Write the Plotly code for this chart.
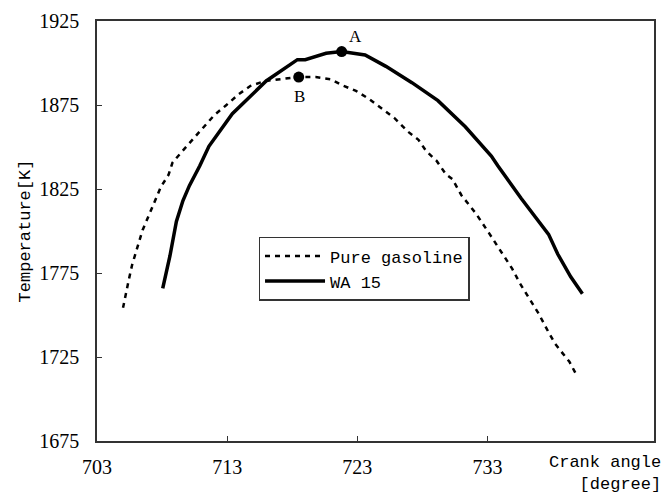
import plotly.graph_objects as go

# Pure gasoline (dashed)
gas_x = [705.0, 705.2, 705.45, 705.7, 706.0, 706.2, 706.5, 707.0, 707.5, 707.9, 708.5, 708.8, 709.4,
         710.1, 711.1, 712.0, 712.9, 713.9, 714.8, 715.9, 716.9, 718.5, 719.8, 721.0, 721.8, 722.9,
         723.9, 724.9, 725.9, 726.9, 727.7, 728.3, 729.1, 729.8, 730.3, 731.0, 732.1, 733.1, 734.1,
         734.9, 735.5, 736.3, 736.9, 737.7, 738.2, 738.8, 739.3, 739.9]
gas_T = [1754.3, 1762.6, 1771.2, 1779.9, 1787.3, 1793.7, 1800.5, 1809.6, 1818.8, 1826.1, 1833.5, 1840.7, 1846.1,
         1852.3, 1861.0, 1868.9, 1874.7, 1881.5, 1886.4, 1889.3, 1890.2, 1891.6, 1891.6, 1890.2, 1886.9, 1883.4,
         1878.6, 1872.7, 1866.9, 1859.1, 1854.3, 1847.5, 1841.7, 1833.9, 1831.0, 1821.3, 1810.6, 1799.0, 1787.3,
         1777.6, 1768.8, 1759.1, 1751.3, 1739.7, 1732.9, 1727.0, 1722.2, 1713.5]

# WA 15 (solid)
wa_x = [708.05, 708.6, 709.1, 709.6, 710.1, 710.9, 711.6, 713.4, 716.0, 718.0, 718.4, 719.0, 720.1, 720.6,
        721.8, 723.6, 725.2, 727.2, 729.2, 731.3, 733.3, 733.8, 735.6, 737.7, 738.4, 739.4, 740.3]
wa_T = [1765.9, 1785.0, 1805.7, 1818.0, 1827.0, 1838.8, 1850.4, 1869.8, 1889.3, 1900.0, 1902.0, 1902.0, 1904.8, 1905.8,
        1906.8, 1904.8, 1898.0, 1888.3, 1877.6, 1862.0, 1844.6, 1838.8, 1819.3, 1798.0, 1786.3, 1772.7, 1762.6]

# Marked points
pt_labels = ["A", "B"]
pt_x = [721.8, 718.5]
pt_T = [1906.8, 1891.6]

x_ticks = [703, 713, 723, 733]
y_ticks = [1675, 1725, 1775, 1825, 1875, 1925]

FONT = "Liberation Mono"
TICKFONT = "Liberation Serif"

fig = go.Figure()
fig.add_trace(go.Scatter(x=gas_x, y=gas_T, mode="lines", name="Pure gasoline",
                         line=dict(color="black", width=2.5, dash="5px,5px")))
fig.add_trace(go.Scatter(x=wa_x, y=wa_T, mode="lines", name="WA 15",
                         line=dict(color="black", width=3.5)))
fig.add_trace(go.Scatter(x=pt_x, y=pt_T, mode="markers", showlegend=False,
                         marker=dict(color="black", size=11)))

fig.add_annotation(x=pt_x[0], y=pt_T[0], text=pt_labels[0], showarrow=False,
                   xshift=14, yshift=15, font=dict(family="Liberation Serif", size=17, color="black"))
fig.add_annotation(x=pt_x[1], y=pt_T[1], text=pt_labels[1], showarrow=False,
                   xshift=1, yshift=-19, font=dict(family="Liberation Serif", size=17, color="black"))

fig.add_annotation(xref="paper", yref="paper", x=1, y=0, xanchor="right", yanchor="top",
                   xshift=9, yshift=-10,
                   text="Crank angle<br>[degree]", showarrow=False, align="right",
                   font=dict(family=FONT, size=17, color="black"))

axis_common = dict(showgrid=False, zeroline=False, showline=True, linecolor="#333",
                   linewidth=1.5, mirror=True, ticks="inside", ticklen=5, tickcolor="#333",
                   tickfont=dict(family=TICKFONT, size=20, color="black"))

fig.update_xaxes(range=[703, 745.8], tickvals=x_ticks, ticktext=[str(v) for v in x_ticks],
                 ticklabelstandoff=7, **axis_common)
fig.update_yaxes(range=[1675, 1925], tickvals=y_ticks, ticktext=[str(v) for v in y_ticks],
                 ticklabelstandoff=12,
                 title=dict(text="Temperature[K]", font=dict(family=FONT, size=17, color="black"), standoff=4),
                 **axis_common)

fig.update_layout(
    width=666, height=499,
    margin=dict(l=97, r=10, t=12, b=58),
    paper_bgcolor="white", plot_bgcolor="white",
    showlegend=True,
    legend=dict(x=0.29, y=0.486, xanchor="left", yanchor="top",
                bordercolor="#333", borderwidth=1.5, bgcolor="white",
                font=dict(family=FONT, size=17, color="black"),
                tracegroupgap=0, itemwidth=60),
)

fig.write_html("out.html")
